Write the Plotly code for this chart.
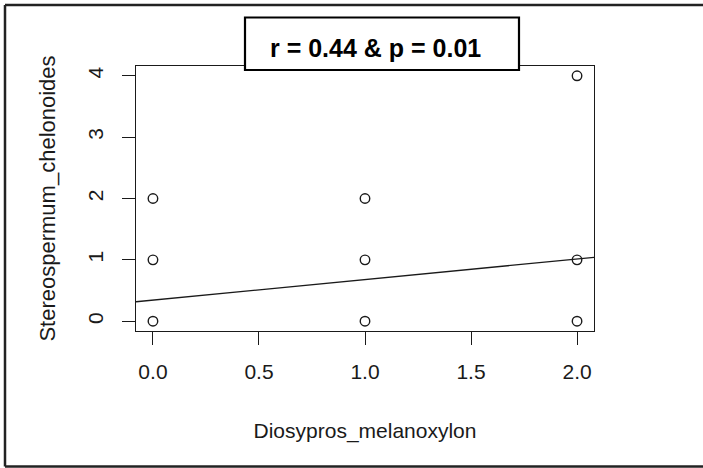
import plotly.graph_objects as go

# Data
x_vals = [0, 0, 0, 1, 1, 1, 2, 2, 2]
y_vals = [0, 1, 2, 0, 1, 2, 0, 1, 4]
fit_intercept = 0.344
fit_slope = 0.335
x_range = [-0.08, 2.08]
y_range = [-0.16, 4.16]
x_ticks = [0, 0.5, 1.0, 1.5, 2.0]
x_ticklabels = ["0.0", "0.5", "1.0", "1.5", "2.0"]
y_ticks = [0, 1, 2, 3, 4]
y_ticklabels = ["0", "1", "2", "3", "4"]
x_title = "Diosypros_melanoxylon"
y_title = "Stereospermum_chelonoides"
stat_text = "r = 0.44 & p = 0.01"

fit_x = x_range
fit_y = [fit_intercept + fit_slope * v for v in fit_x]

W, H = 703, 468
L, R, T, B = 136, 594, 66, 331

def px(xp):
    return (xp - L) / (R - L)

def py(yp):
    return (B - yp) / (B - T)

FONT = "Liberation Sans, Arial, sans-serif"
INK = "#1a1a1a"

fig = go.Figure()
fig.add_trace(go.Scatter(
    x=fit_x, y=fit_y, mode="lines",
    line=dict(color=INK, width=1.3), hoverinfo="skip", showlegend=False,
))
fig.add_trace(go.Scatter(
    x=x_vals, y=y_vals, mode="markers",
    marker=dict(symbol="circle-open", size=9.5, color=INK, line=dict(width=1.4)),
    showlegend=False,
))

axis_common = dict(
    showgrid=False, zeroline=False, showline=True, mirror=True,
    linecolor=INK, linewidth=1.3, ticks="outside", ticklen=13,
    tickcolor=INK, tickwidth=1.3,
    tickfont=dict(family=FONT, size=21, color=INK),
)

fig.update_layout(
    width=W, height=H,
    margin=dict(l=L, r=W - R, t=T, b=H - B, pad=0),
    paper_bgcolor="white", plot_bgcolor="white",
    xaxis=dict(
        range=x_range, tickvals=x_ticks, ticktext=x_ticklabels,
        ticklabelstandoff=9,
        title=dict(text=x_title, font=dict(family=FONT, size=21, color=INK), standoff=40),
        **axis_common,
    ),
    yaxis=dict(
        range=y_range, tickvals=y_ticks, ticktext=y_ticklabels, tickangle=-90,
        ticklabelstandoff=10,
        title=dict(text=y_title, font=dict(family=FONT, size=22, color=INK), standoff=22),
        **axis_common,
    ),
)

# outer frame (top, left, bottom)
frame = dict(type="line", xref="paper", yref="paper", line=dict(color="#222222", width=2.5))
fig.add_shape(x0=px(5), x1=px(710), y0=py(5), y1=py(5), **frame)
fig.add_shape(x0=px(5), x1=px(5), y0=py(5), y1=py(466.5), **frame)
fig.add_shape(x0=px(5), x1=px(710), y0=py(466.5), y1=py(466.5), **frame)

# statistics box
fig.add_shape(type="rect", xref="paper", yref="paper", layer="above",
              x0=px(245), x1=px(519), y0=py(17.5), y1=py(70),
              fillcolor="white", line=dict(color="black", width=2.2))
fig.add_annotation(
    text="<b>" + stat_text + "</b>",
    xref="paper", yref="paper", x=px(375.5), y=py(48),
    xanchor="center", yanchor="middle", showarrow=False,
    font=dict(family=FONT, size=25, color="black"),
)

fig.write_html("out.html")
